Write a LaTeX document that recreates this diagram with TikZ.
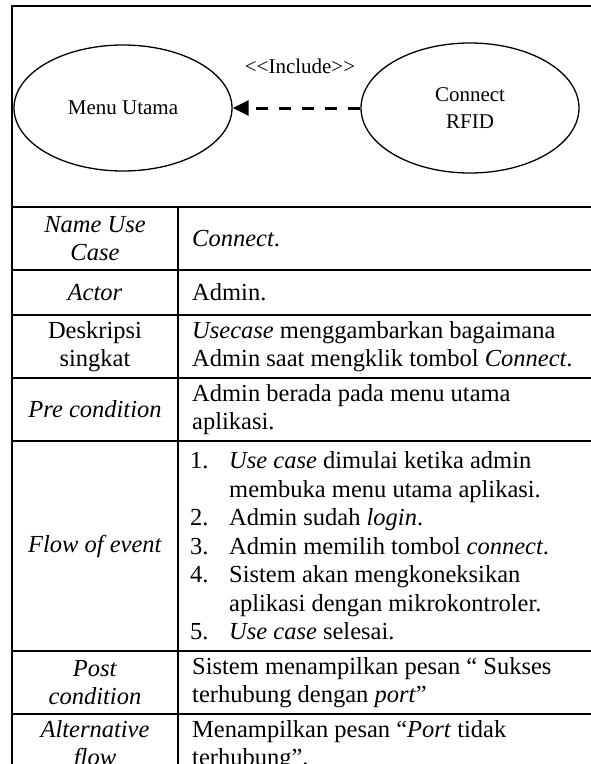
\documentclass[tikz,border=0pt]{standalone}
\usepackage{fontspec}
\setmainfont{Liberation Serif}
\usetikzlibrary{arrows.meta,shapes.geometric}
\newcommand{\tfont}{\fontsize{24.5}{28.5}\selectfont}
\newcommand{\dfont}{\fontsize{21}{27}\selectfont}
\begin{document}
\begin{tikzpicture}[x=1pt,y=-1pt,
  rule/.style={line width=1.4pt},
  usecase/.style={draw, line width=1.3pt, ellipse, inner sep=0pt, font=\dfont, align=center},
  lcell/.style={font=\tfont, inner sep=0pt, align=center},
  rcell/.style={font=\tfont, inner sep=0pt, align=left, anchor=west},
  incl/.style={dash pattern=on 12pt off 11pt, line width=3pt, -{Triangle[length=16pt,width=15pt]}}]
\clip (0,0) rectangle (591,764);
% frame and table rules
\draw[rule] (12,6) rectangle (640,820);
\foreach \yy in {207,270,315,378,441,651,714} \draw[rule] (12,\yy) -- (640,\yy);
\draw[rule] (178,207) -- (178,820);
% use case diagram
\node[usecase, minimum width=218pt, minimum height=126pt] (menu) at (123,108) {Menu Utama};
\node[usecase, minimum width=218pt, minimum height=130pt] (rfid) at (470,108) {Connect\\RFID};
\draw[incl] (rfid.west) -- (menu.east);
\node[font=\dfont, inner sep=0pt] (inc) at (300,66) {{<}{<}Include{>}{>}};
% left column
\node[lcell] (l1) at (95,238.5) {\textit{Name Use}\\\textit{Case}};
\node[lcell] (l2) at (95,292.5) {\textit{Actor}};
\node[lcell] (l3) at (95,346.5) {Deskripsi\\singkat};
\node[lcell] (l4) at (95,409.5) {\textit{Pre condition}};
\node[lcell] (l5) at (95,546) {\textit{Flow of event}};
\node[lcell] (l6) at (95,682.5) {\textit{Post}\\\textit{condition}};
\node[lcell] (l7) at (95,745.5) {\textit{Alternative}\\\textit{flow}};
% right column
\node[rcell] (r1) at (192,238.5) {\textit{Connect}.};
\node[rcell] (r2) at (192,292.5) {Admin.};
\node[rcell] (r3) at (192,346.5) {\textit{Usecase} menggambarkan bagaimana\\Admin saat mengklik tombol \textit{Connect}.};
\node[rcell] (r4) at (192,409.5) {Admin berada pada menu utama\\aplikasi.};
\node[rcell] (r5) at (190,546) {\makebox[39pt][l]{1.}\textit{Use case} dimulai ketika admin\\
\hspace*{39pt}membuka menu utama aplikasi.\\
\makebox[39pt][l]{2.}Admin sudah \textit{login}.\\
\makebox[39pt][l]{3.}Admin memilih tombol \textit{connect}.\\
\makebox[39pt][l]{4.}Sistem akan mengkoneksikan\\
\hspace*{39pt}aplikasi dengan mikrokontroler.\\
\makebox[39pt][l]{5.}\textit{Use case} selesai.};
\node[rcell] (r6) at (192,682.5) {Sistem menampilkan pesan “ Sukses\\terhubung dengan \textit{port}”};
\node[rcell] (r7) at (192,745.5) {Menampilkan pesan “\textit{Port} tidak\\terhubung”.};
\end{tikzpicture}
\end{document}
